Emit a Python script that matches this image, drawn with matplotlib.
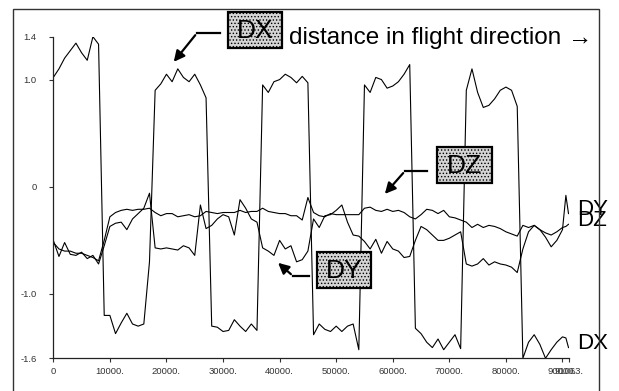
import matplotlib
matplotlib.use('Agg')
import matplotlib.pyplot as plt
from matplotlib.patches import Rectangle, FancyArrowPatch
from matplotlib.lines import Line2D

plt.rcParams['font.family'] = ['Liberation Sans', 'DejaVu Sans']
plt.rcParams['hatch.color'] = '#6a6a6a'
plt.rcParams['hatch.linewidth'] = 0.6

# distance along the flight line (samples)
distance = [0, 1000, 2000, 3000, 4000, 5000, 6000, 7000, 8000, 9000,
            10000, 11000, 12000, 13000, 14000, 15000, 16000, 17000, 18000, 19000,
            20000, 21000, 22000, 23000, 24000, 25000, 26000, 27000, 28000, 29000,
            30000, 31000, 32000, 33000, 34000, 35000, 36000, 37000, 38000, 39000,
            40000, 41000, 42000, 43000, 44000, 45000, 46000, 47000, 48000, 49000,
            50000, 51000, 52000, 53000, 54000, 55000, 56000, 57000, 58000, 59000,
            60000, 61000, 62000, 63000, 64000, 65000, 66000, 67000, 68000, 69000,
            70000, 71000, 72000, 73000, 74000, 75000, 76000, 77000, 78000, 79000,
            80000, 81000, 82000, 83000, 84000, 85000, 86000, 87000, 88000, 89000,
            90000, 90600, 91063]

dx = [1.02, 1.1, 1.2, 1.27, 1.34, 1.25, 1.18, 1.4, 1.33,
      -1.2, -1.2, -1.37, -1.27, -1.18, -1.28, -1.3, -1.28, -0.7,
      0.9, 0.96, 1.05, 0.98, 1.1, 1.02, 0.98, 1.05, 0.95, 0.83,
      -1.3, -1.31, -1.35, -1.34, -1.24, -1.3, -1.35, -1.28, -1.34,
      0.95, 0.88, 0.98, 1.0, 1.05, 1.02, 0.97, 1.03, 0.97,
      -1.38, -1.28, -1.33, -1.35, -1.3, -1.35, -1.3, -1.28, -1.52,
      0.95, 0.88, 1.02, 1.0, 0.92, 0.94, 0.98, 1.05, 1.14,
      -1.32, -1.37, -1.45, -1.5, -1.42, -1.52, -1.45, -1.38, -1.51,
      0.9, 1.1, 0.88, 0.74, 0.76, 0.82, 0.9, 0.93, 0.9, 0.75,
      -1.6, -1.45, -1.38, -1.47, -1.6, -1.52, -1.45, -1.4,
      -1.41, -1.5]

dz = [-0.52, -0.58, -0.6, -0.6, -0.62, -0.62, -0.64, -0.66, -0.69, -0.5,
      -0.28, -0.24, -0.22, -0.21, -0.22, -0.21, -0.21, -0.2,
      -0.24, -0.27, -0.25, -0.25, -0.28, -0.27, -0.26, -0.28, -0.27,
      -0.23, -0.24, -0.25, -0.24, -0.24, -0.24, -0.22, -0.24, -0.23, -0.23,
      -0.2, -0.23, -0.24, -0.25, -0.25, -0.27, -0.27, -0.31, -0.1,
      -0.24, -0.27, -0.28, -0.25, -0.26, -0.26, -0.26, -0.26, -0.26,
      -0.2, -0.19, -0.22, -0.23, -0.21, -0.23, -0.22, -0.24, -0.28,
      -0.3, -0.26, -0.21,
      -0.22, -0.25, -0.22, -0.28, -0.29, -0.31,
      -0.33, -0.38, -0.35, -0.38, -0.36, -0.37, -0.39, -0.42, -0.44, -0.46,
      -0.36, -0.38, -0.36, -0.4, -0.43, -0.45, -0.42, -0.38,
      -0.37, -0.35]

dy = [-0.5, -0.65, -0.52, -0.63, -0.64, -0.61, -0.67, -0.64, -0.72, -0.55,
      -0.37, -0.34, -0.33, -0.4, -0.3, -0.25, -0.2, -0.06,
      -0.57, -0.58, -0.57, -0.58, -0.59, -0.55, -0.57, -0.64, -0.17, -0.39,
      -0.36, -0.3, -0.26, -0.28, -0.45, -0.12, -0.2, -0.3, -0.33,
      -0.57, -0.6, -0.64, -0.5, -0.58, -0.55, -0.7, -0.68, -0.6,
      -0.3, -0.38, -0.27, -0.26, -0.22, -0.17, -0.33, -0.45, -0.46,
      -0.51, -0.58, -0.49, -0.62, -0.51, -0.58, -0.6, -0.66, -0.65,
      -0.5, -0.37, -0.4,
      -0.45, -0.5, -0.5, -0.48, -0.45, -0.42,
      -0.72, -0.74, -0.72, -0.67, -0.73, -0.7, -0.72, -0.73, -0.75, -0.8,
      -0.58, -0.42, -0.36, -0.4, -0.47, -0.56, -0.5, -0.4,
      -0.08, -0.25]

xticks = [0, 10000, 20000, 30000, 40000, 50000, 60000, 70000, 80000, 90000, 91063]
xlabels = ['0', '10000.', '20000.', '30000.', '40000.', '50000.', '60000.',
           '70000.', '80000.', '90000.', '91063.']
yticks = [-1.6, -1.0, 0, 1.0, 1.4]
ylabels = ['-1.6', '-1.0', '0', '1.0', '1.4']

W, H = 619, 391
fig = plt.figure(figsize=(W / 100, H / 100), dpi=100)


def fx(px):
    return px / W


def fy(py):
    return 1 - py / H


ax = fig.add_axes([fx(53.3), fy(358.3), (568.5 - 53.3) / W, (358.3 - 36.7) / H])

ax.plot(distance, dx, color='black', lw=0.8)
ax.plot(distance, dy, color='black', lw=0.8)
ax.plot(distance, dz, color='black', lw=0.8)

ax.set_xlim(0, 91063)
ax.set_ylim(-1.6, 1.4)
ax.set_xticks(xticks)
ax.set_xticklabels(xlabels)
ax.set_yticks(yticks)
ax.set_yticklabels(ylabels)
ax.tick_params(axis='both', direction='out', length=3, width=0.8,
               labelsize=6.8, labelcolor='#333333', color='#333333')
ax.tick_params(axis='y', pad=9)
ax.tick_params(axis='x', pad=3.5)
for s in ['top', 'right']:
    ax.spines[s].set_visible(False)
for s in ['left', 'bottom']:
    ax.spines[s].set_color('#222222')
    ax.spines[s].set_linewidth(0.9)
ax.patch.set_alpha(0)

# series names at the line ends
for name, vals in [('DY', dy), ('DZ', dz), ('DX', dx)]:
    ax.annotate(name, xy=(distance[-1], vals[-1]), xytext=(6, 3),
                textcoords='offset points', fontsize=16, va='center',
                ha='left', annotation_clip=False)

# outer frame
fig.add_artist(Rectangle((fx(13), fy(420)), fx(599) - fx(13), fy(9) - fy(420),
                         transform=fig.transFigure, fill=False,
                         ec='#333333', lw=1))

fig.text(fx(289), fy(38), 'distance in flight direction \u2192', fontsize=17.5,
         va='center', ha='left')


def label_box(x0, y0, x1, y1, txt):
    fig.add_artist(Rectangle((fx(x0), fy(y1)), fx(x1) - fx(x0), fy(y0) - fy(y1),
                             transform=fig.transFigure, fc='#d4d4d4',
                             ec='black', lw=1.6, hatch='.....'))
    fig.text(fx((x0 + x1) / 2), fy((y0 + y1) / 2 + 1), txt, fontsize=19,
             ha='center', va='center')


def pointer(pts):
    xs = [fx(p[0]) for p in pts[:-1]]
    ys = [fy(p[1]) for p in pts[:-1]]
    fig.add_artist(Line2D(xs, ys, transform=fig.transFigure, color='black', lw=1.6))
    a = pts[-2]
    b = pts[-1]
    fig.add_artist(FancyArrowPatch((fx(a[0]), fy(a[1])), (fx(b[0]), fy(b[1])),
                                   transform=fig.transFigure, arrowstyle='-|>',
                                   mutation_scale=16, lw=1.6, color='black'))


label_box(228, 12, 282, 48, 'DX')
pointer([(220, 33), (197, 33), (172, 64)])

label_box(437, 147, 492, 183, 'DZ')
pointer([(427, 171), (405, 171), (383, 196)])

label_box(317, 252, 371, 288, 'DY')
pointer([(309, 276), (293, 276), (276, 261)])

fig.savefig('out.png', dpi=100)
